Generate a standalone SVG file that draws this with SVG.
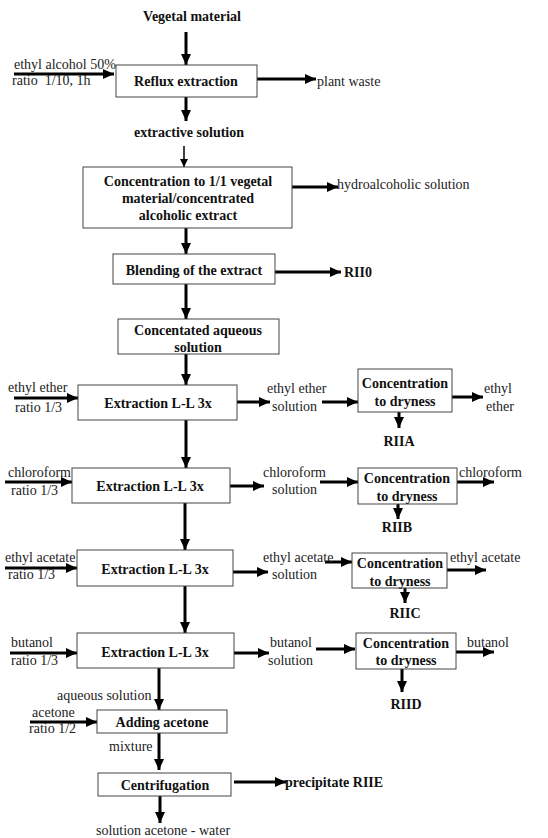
<svg xmlns="http://www.w3.org/2000/svg" width="548" height="838" viewBox="0 0 548 838">
<defs>
<marker id="ah" markerUnits="userSpaceOnUse" markerWidth="11" markerHeight="10" refX="11" refY="5" orient="auto">
<path d="M0,0 L11,5 L0,10 z" fill="#000"/>
</marker>
<marker id="ahs" markerUnits="userSpaceOnUse" markerWidth="8" markerHeight="8" refX="8" refY="4" orient="auto">
<path d="M0,0 L8,4 L0,8 z" fill="#000"/>
</marker>
<style>
.box{fill:#fff;stroke:#444;stroke-width:1}
.t{font-family:"Liberation Serif","Times New Roman",serif;font-size:14px;fill:#222;white-space:pre}
.b{font-family:"Liberation Serif","Times New Roman",serif;font-size:14px;font-weight:bold;fill:#111}
.m{text-anchor:middle}
.a{stroke:#000;stroke-width:3;fill:none;marker-end:url(#ah)}
.as{stroke:#000;stroke-width:1.5;fill:none;marker-end:url(#ahs)}
</style>
</defs>
<g id="connectors">
<line class="a" x1="186" y1="32" x2="186" y2="65"/>
<line class="a" x1="14" y1="74" x2="114" y2="74"/>
<line class="a" x1="257" y1="79" x2="316" y2="79"/>
<line class="a" x1="186" y1="97" x2="186" y2="121"/>
<line class="as" x1="184" y1="146" x2="184" y2="167"/>
<line class="a" x1="292" y1="187" x2="338" y2="187"/>
<line class="a" x1="186" y1="228" x2="186" y2="254"/>
<line class="a" x1="275" y1="272" x2="341" y2="272"/>
<line class="a" x1="186" y1="284" x2="186" y2="319"/>
<line class="a" x1="186" y1="354" x2="186" y2="385"/>
<line class="a" x1="14" y1="398" x2="78" y2="398"/>
<line class="a" x1="237" y1="402" x2="270" y2="402"/>
<line class="a" x1="322" y1="402" x2="358" y2="402"/>
<line class="a" x1="452" y1="397" x2="483" y2="397"/>
<line class="a" x1="399" y1="412" x2="399" y2="428"/>
<line class="a" x1="186" y1="420" x2="186" y2="468"/>
<line class="a" x1="5" y1="482" x2="72" y2="482"/>
<line class="a" x1="230" y1="486" x2="264" y2="486"/>
<line class="a" x1="320" y1="482" x2="358" y2="482"/>
<line class="a" x1="457" y1="482" x2="494" y2="482"/>
<line class="a" x1="398" y1="504" x2="398" y2="519"/>
<line class="a" x1="185" y1="503" x2="185" y2="550"/>
<line class="a" x1="5" y1="568" x2="77" y2="568"/>
<line class="a" x1="233" y1="572" x2="268" y2="572"/>
<line class="a" x1="325" y1="562" x2="352" y2="562"/>
<line class="a" x1="447" y1="570" x2="486" y2="570"/>
<line class="a" x1="405" y1="588" x2="405" y2="603"/>
<line class="a" x1="185" y1="586" x2="185" y2="633"/>
<line class="a" x1="10" y1="653" x2="77" y2="653"/>
<line class="a" x1="234" y1="653" x2="269" y2="653"/>
<line class="a" x1="316" y1="649" x2="355" y2="649"/>
<line class="a" x1="456" y1="652" x2="494" y2="652"/>
<line class="a" x1="402" y1="669" x2="402" y2="692"/>
<line class="a" x1="159" y1="668" x2="159" y2="710"/>
<line class="a" x1="30" y1="722" x2="97" y2="722"/>
<line class="a" x1="159" y1="733" x2="159" y2="770"/>
<line class="a" x1="234" y1="782" x2="286" y2="782"/>
<line class="a" x1="160" y1="796" x2="160" y2="823"/>
</g>
<g id="labels">
<text class="b m" x="192" y="21">Vegetal material</text>
<text class="t" x="14" y="69">ethyl alcohol 50%</text>
<text class="t" x="12" y="85">ratio  1/10, 1h</text>
<text class="t" x="317" y="86">plant waste</text>
<text class="b m" x="189" y="137">extractive solution</text>
<text class="t" x="337" y="189">hydroalcoholic solution</text>
<text class="b" x="344" y="277">RII0</text>
<text class="t" x="8" y="392">ethyl ether</text>
<text class="t" x="15" y="412">ratio 1/3</text>
<text class="t" x="267" y="393">ethyl ether</text>
<text class="t" x="272" y="411">solution</text>
<text class="t" x="484" y="393">ethyl</text>
<text class="t" x="486" y="411">ether</text>
<text class="b m" x="399" y="446">RIIA</text>
<text class="t" x="8" y="477">chloroform</text>
<text class="t" x="11" y="495">ratio 1/3</text>
<text class="t" x="263" y="477">chloroform</text>
<text class="t" x="272" y="494">solution</text>
<text class="t" x="459" y="477">chloroform</text>
<text class="b m" x="397" y="532">RIIB</text>
<text class="t" x="5" y="562">ethyl acetate</text>
<text class="t" x="8" y="579">ratio 1/3</text>
<text class="t" x="263" y="562">ethyl acetate</text>
<text class="t" x="272" y="579">solution</text>
<text class="t" x="450" y="562">ethyl acetate</text>
<text class="b m" x="405" y="618">RIIC</text>
<text class="t" x="11" y="647">butanol</text>
<text class="t" x="11" y="665">ratio 1/3</text>
<text class="t" x="270" y="647">butanol</text>
<text class="t" x="268" y="665">solution</text>
<text class="t" x="467" y="647">butanol</text>
<text class="b m" x="406" y="709">RIID</text>
<text class="t" x="57" y="700">aqueous solution</text>
<text class="t" x="32" y="717">acetone</text>
<text class="t" x="29" y="733">ratio 1/2</text>
<text class="t" x="109" y="751">mixture</text>
<text class="b" x="285" y="787">precipitate RIIE</text>
<text class="t m" x="163" y="835">solution acetone - water</text>
</g>
<g id="reflux"><rect class="box" x="116" y="65" width="141" height="32"/><text class="b m" x="186" y="86">Reflux extraction</text></g>
<g id="concentration"><rect class="box" x="83" y="167" width="209" height="61"/>
<text class="b m" x="188" y="186">Concentration to 1/1 vegetal</text>
<text class="b m" x="188" y="203">material/concentrated</text>
<text class="b m" x="188" y="220">alcoholic extract</text></g>
<g id="blending"><rect class="box" x="113" y="254" width="162" height="30"/><text class="b m" x="194" y="275">Blending of the extract</text></g>
<g id="aqueous"><rect class="box" x="118" y="319" width="161" height="35"/>
<text class="b m" x="198" y="335">Concentated aqueous</text>
<text class="b m" x="198" y="352">solution</text></g>
<g id="extract1"><rect class="box" x="78" y="385" width="159" height="35"/><text class="b m" x="158" y="408">Extraction L-L 3x</text></g>
<g id="concA"><rect class="box" x="358" y="369" width="94" height="43"/>
<text class="b m" x="405" y="388">Concentration</text><text class="b m" x="405" y="406">to dryness</text></g>
<g id="extract2"><rect class="box" x="72" y="468" width="158" height="35"/><text class="b m" x="150" y="491">Extraction L-L 3x</text></g>
<g id="concB"><rect class="box" x="358" y="468" width="99" height="36"/>
<text class="b m" x="407" y="483">Concentration</text><text class="b m" x="407" y="501">to dryness</text></g>
<g id="extract3"><rect class="box" x="77" y="550" width="156" height="36"/><text class="b m" x="155" y="574">Extraction L-L 3x</text></g>
<g id="concC"><rect class="box" x="352" y="553" width="95" height="35"/>
<text class="b m" x="400" y="568">Concentration</text><text class="b m" x="400" y="586">to dryness</text></g>
<g id="extract4"><rect class="box" x="77" y="633" width="157" height="35"/><text class="b m" x="155" y="657">Extraction L-L 3x</text></g>
<g id="concD"><rect class="box" x="356" y="633" width="100" height="36"/>
<text class="b m" x="406" y="648">Concentration</text><text class="b m" x="406" y="665">to dryness</text></g>
<g id="adding"><rect class="box" x="97" y="710" width="130" height="23"/><text class="b m" x="162" y="727">Adding acetone</text></g>
<g id="centrifugation"><rect class="box" x="98" y="773" width="133" height="23"/><text class="b m" x="165" y="790">Centrifugation</text></g>
</svg>
